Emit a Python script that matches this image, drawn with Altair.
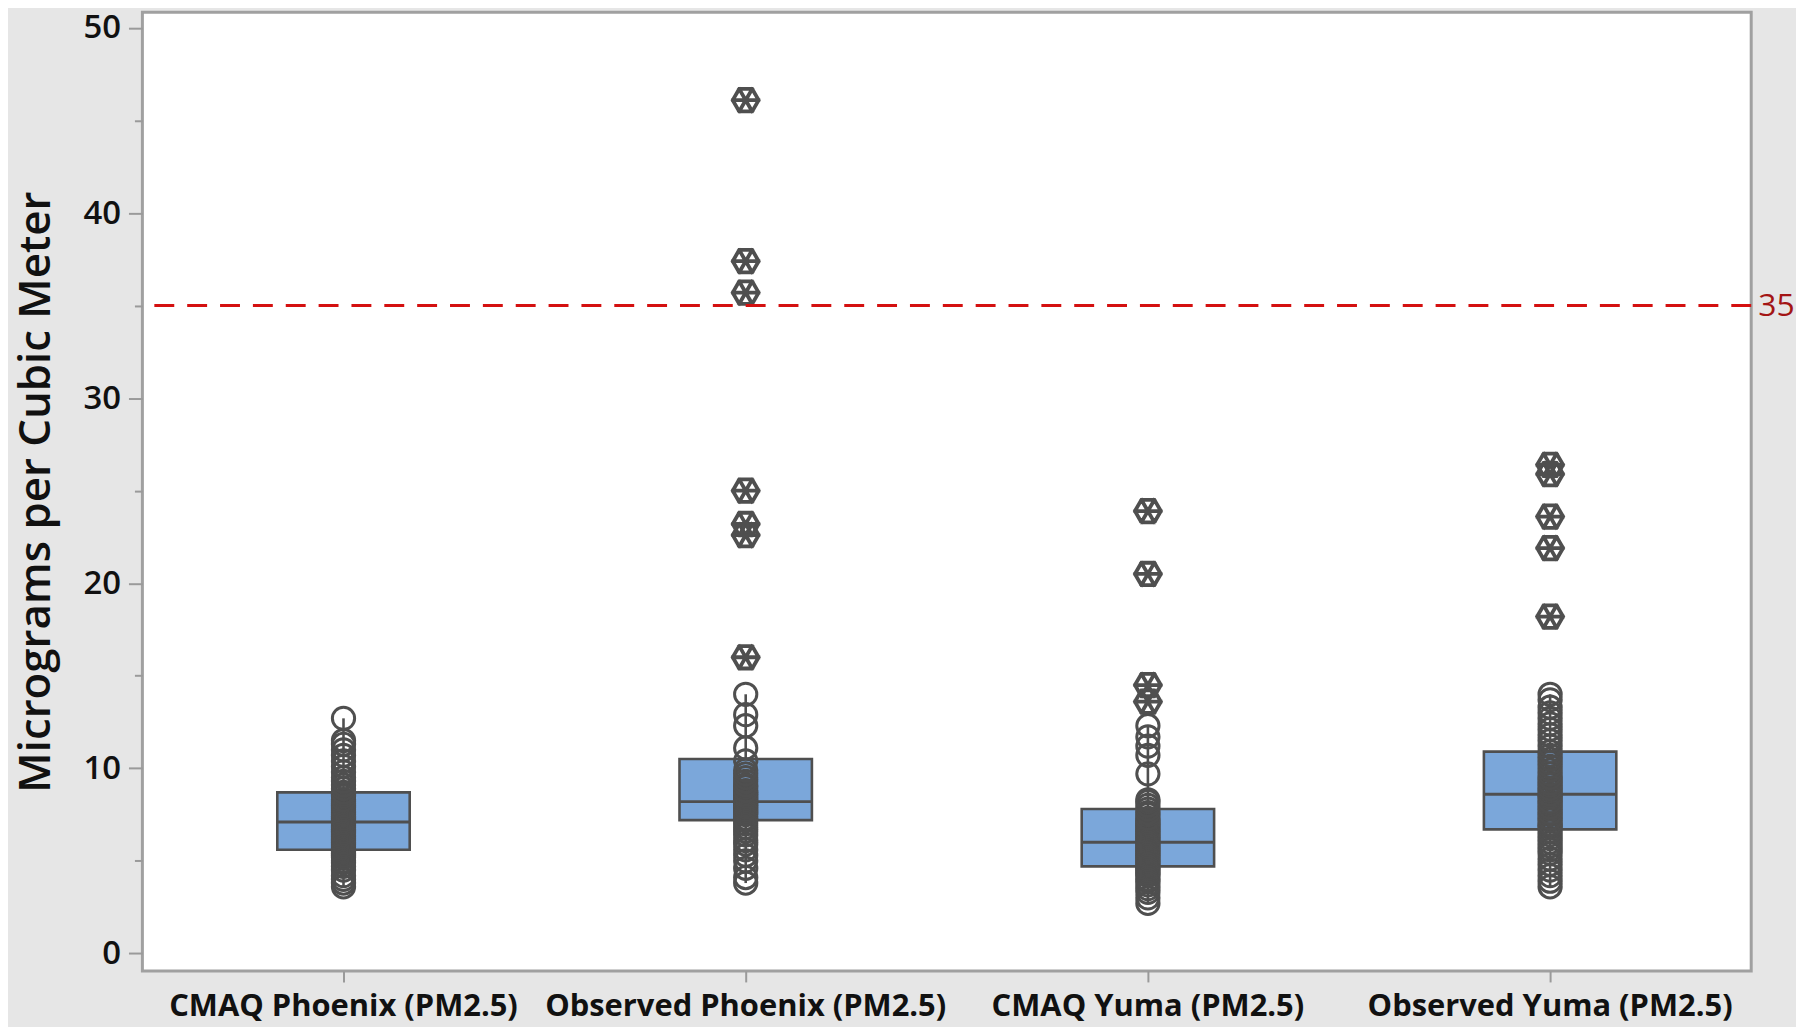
import altair as alt
import pandas as pd

categories = [
    "CMAQ Phoenix (PM2.5)",
    "Observed Phoenix (PM2.5)",
    "CMAQ Yuma (PM2.5)",
    "Observed Yuma (PM2.5)",
]

# Box statistics
q1 = [5.6, 7.2, 4.7, 6.7]
median = [7.1, 8.2, 6.0, 8.6]
q3 = [8.7, 10.5, 7.8, 10.9]
whisker_low = [3.6, 3.8, 2.7, 3.6]
whisker_high = [12.7, 14.0, 12.3, 14.0]

# Individual observations (open circles)
points_cmaq_phoenix = [3.6, 3.8, 4.0, 4.2, 4.5, 4.7, 4.9, 5.0, 5.2, 5.3, 5.4, 5.5, 5.6, 5.7,
                       5.8, 5.9, 6.0, 6.1, 6.2, 6.3, 6.4, 6.5, 6.6, 6.7, 6.8, 6.9, 7.0, 7.1,
                       7.2, 7.3, 7.4, 7.5, 7.6, 7.7, 7.8, 7.9, 8.0, 8.1, 8.2, 8.3, 8.5, 8.6,
                       8.7, 8.9, 9.1, 9.3, 9.5, 9.8, 10.1, 10.4, 10.7, 11.0, 11.3, 11.5, 12.7]
points_obs_phoenix = [3.8, 4.1, 4.6, 5.0, 5.3, 5.6, 5.9, 6.1, 6.4, 6.6, 6.8, 7.0, 7.2, 7.3,
                      7.5, 7.6, 7.7, 7.8, 7.9, 8.0, 8.1, 8.2, 8.3, 8.4, 8.5, 8.6, 8.7, 8.8,
                      9.0, 9.1, 9.3, 9.5, 9.7, 9.9, 10.4, 11.1, 12.3, 12.9, 14.0]
points_cmaq_yuma = [2.7, 3.0, 3.3, 3.5, 3.7, 3.9, 4.0, 4.2, 4.3, 4.4, 4.5, 4.6, 4.7, 4.8,
                    4.9, 5.0, 5.1, 5.2, 5.3, 5.4, 5.5, 5.6, 5.7, 5.8, 5.9, 6.0, 6.1, 6.2,
                    6.3, 6.4, 6.5, 6.6, 6.7, 6.8, 6.9, 7.0, 7.1, 7.2, 7.3, 7.5, 7.6, 7.8,
                    8.0, 8.2, 8.3, 9.7, 10.7, 11.2, 11.7, 12.3]
points_obs_yuma = [3.6, 3.9, 4.2, 4.5, 4.8, 5.1, 5.4, 5.6, 5.8, 6.0, 6.2, 6.4, 6.6, 6.8,
                   6.9, 7.0, 7.2, 7.3, 7.5, 7.6, 7.8, 7.9, 8.1, 8.2, 8.4, 8.5, 8.6, 8.8,
                   8.9, 9.1, 9.2, 9.4, 9.5, 9.7, 9.9, 10.1, 10.3, 10.5, 10.7, 10.9, 11.2,
                   11.5, 11.8, 12.1, 12.4, 12.7, 13.0, 13.3, 13.7, 14.0]

# Outliers (hexagon-asterisk symbols)
outliers_cmaq_phoenix = []
outliers_obs_phoenix = [16.0, 22.6, 23.2, 25.0, 35.7, 37.4, 46.1]
outliers_cmaq_yuma = [13.6, 14.5, 20.5, 23.9]
outliers_obs_yuma = [18.2, 21.9, 23.6, 25.9, 26.4]

reference_value = [35]
reference_label = ["35"]

# ---- tables ----
box_df = pd.DataFrame({
    "category": categories, "q1": q1, "median": median, "q3": q3,
    "lo": whisker_low, "hi": whisker_high,
})
point_lists = [points_cmaq_phoenix, points_obs_phoenix, points_cmaq_yuma, points_obs_yuma]
outlier_lists = [outliers_cmaq_phoenix, outliers_obs_phoenix, outliers_cmaq_yuma, outliers_obs_yuma]
pts_df = pd.DataFrame([{"category": c, "value": v} for c, vals in zip(categories, point_lists) for v in vals])
out_df = pd.DataFrame([{"category": c, "value": v} for c, vals in zip(categories, outlier_lists) for v in vals])
ref_df = pd.DataFrame({"value": reference_value, "label": reference_label})

PLOT_W = 1616
PLOT_H = 963
FONT = "Open Sans"
DARK = "#4F4F4F"
AXISGRAY = "#9A9A9A"

x_enc = alt.X(
    "category:N",
    sort=categories,
    scale=alt.Scale(domain=categories, paddingInner=0, paddingOuter=0),
    axis=alt.Axis(
        title=None, labelAngle=0, domain=False, grid=False,
        tickSize=11, tickColor=AXISGRAY, tickWidth=2,
        labelFont=FONT, labelFontSize=31, labelFontWeight=700, labelColor="#111111",
        labelPadding=10, labelLimit=600, labelOverlap=False, labelBound=False,
    ),
)
y_scale = alt.Scale(domain=[-0.95, 50.85], nice=False, zero=False)
y_axis = alt.Axis(
    values=[0, 5, 10, 15, 20, 25, 30, 35, 40, 45, 50],
    labelExpr="datum.value % 10 == 0 ? datum.label : ''",
    tickSize={"condition": {"test": "datum.value % 10 === 0", "value": 14}, "value": 8},
    tickColor=AXISGRAY, tickWidth=2, domain=False, grid=False,
    labelFont=FONT, labelFontSize=33, labelFontWeight=600, labelColor="#111111",
    labelPadding=8,
    title="Micrograms per Cubic Meter",
    titleFont=FONT, titleFontSize=44, titleFontWeight=600, titleColor="#111111",
    titleX=-106, titleY=PLOT_H / 2, titleAlign="center", titleBaseline="middle", titleAngle=-90,
)

boxes = alt.Chart(box_df).mark_bar(
    size=133, fill="#7BA7DA", stroke=DARK, strokeWidth=2.6
).encode(
    x=x_enc,
    y=alt.Y("q1:Q", scale=y_scale, axis=y_axis),
    y2="q3:Q",
)

whisk_low = alt.Chart(box_df).mark_rule(color=DARK, strokeWidth=2.6).encode(
    x=x_enc, y=alt.Y("lo:Q", scale=y_scale, axis=y_axis), y2="q1:Q"
)
whisk_high = alt.Chart(box_df).mark_rule(color=DARK, strokeWidth=2.6).encode(
    x=x_enc, y=alt.Y("q3:Q", scale=y_scale, axis=y_axis), y2="hi:Q"
)

medians = alt.Chart(box_df).mark_tick(
    size=133, thickness=3, color=DARK, opacity=1
).encode(
    x=x_enc, y=alt.Y("median:Q", scale=y_scale, axis=y_axis)
)

circles = alt.Chart(pts_df).mark_point(
    shape="circle", filled=False, size=500, strokeWidth=3, color=DARK, opacity=1
).encode(
    x=x_enc, y=alt.Y("value:Q", scale=y_scale, axis=y_axis)
)

HEX = ("M1,0L0.5,0.866L-0.5,0.866L-1,0L-0.5,-0.866L0.5,-0.866Z "
       "M-1.12,0L1.12,0 M-0.56,-0.97L0.56,0.97 M-0.56,0.97L0.56,-0.97")
outliers = alt.Chart(out_df).mark_point(
    shape=HEX, filled=False, size=680, strokeWidth=3.8, color=DARK, opacity=1
).encode(
    x=x_enc, y=alt.Y("value:Q", scale=y_scale, axis=y_axis)
)

ref_rule = alt.Chart(ref_df).mark_rule(
    color="#D41010", strokeWidth=3, strokeDash=[20, 13]
).encode(
    y=alt.Y("value:Q", scale=y_scale, axis=y_axis)
)
ref_text = alt.Chart(ref_df).mark_text(
    align="left", baseline="middle", font=FONT, fontSize=32, color="#A31515"
).encode(
    x=alt.value(PLOT_W + 7),
    y=alt.Y("value:Q", scale=y_scale, axis=y_axis),
    text="label:N",
)

chart = alt.layer(
    boxes, whisk_low, whisk_high, medians, circles, outliers, ref_rule, ref_text
).properties(
    width=PLOT_W,
    height=PLOT_H,
    autosize=alt.AutoSizeParams(type="none"),
    padding={"left": 135, "top": 2, "right": 45, "bottom": 54},
    background="#E6E6E6",
).configure_view(
    fill="white", stroke="#A0A0A0", strokeWidth=3
)

chart.save("out.html", embed_options={"renderer": "svg", "actions": False})
